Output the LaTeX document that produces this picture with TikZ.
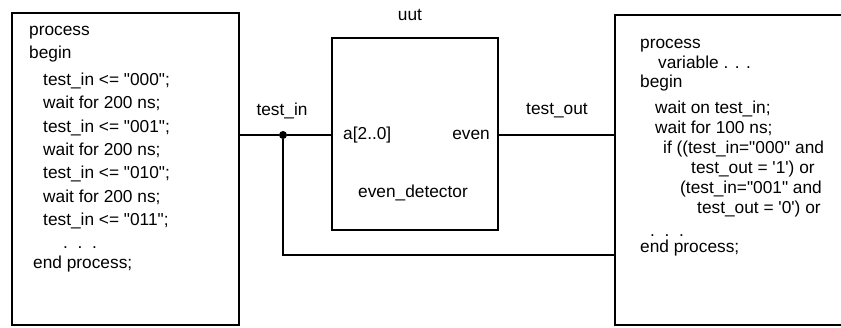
\documentclass[tikz,border=0pt]{standalone}
\usepackage{fontspec}
\setmainfont{Liberation Sans}[Ligatures=TeXOff]
\begin{document}
\begin{tikzpicture}[x=1pt,y=-1pt,
  box/.style={draw, rectangle, line width=2.5pt, inner sep=0pt},
  wire/.style={line width=2.5pt},
  fbwire/.style={line width=1.8pt},
  junction/.style={circle, fill, inner sep=0pt, minimum size=8pt},
  lbl/.style={inner sep=0pt, font=\fontsize{17.3}{20}\selectfont},
  codeL/.style={anchor=base west, inner sep=0pt, font=\fontsize{17.3}{20}\selectfont},
  codeR/.style={anchor=base west, inner sep=0pt, font=\fontsize{17.3}{20}\selectfont}]
\useasboundingbox (0,0) rectangle (841,327);

% stimulus process, unit under test and checking process
\node[box, minimum width=227, minimum height=312] (stim) at (125.5,169) {};
\node[box, minimum width=166, minimum height=192] (uut) at (415,134) {};
\node[box, minimum width=240, minimum height=310] (chk) at (735,170) {};

% stimulus process text
\foreach \dx/\yc/\t [count=\i] in {
  0/30/process,
  0/53/begin,
  14/80/{test\_in <= "000";},
  14/103/{wait for 200 ns;},
  14/127/{test\_in <= "001";},
  14/150/{wait for 200 ns;},
  14/173/{test\_in <= "010";},
  14/197/{wait for 200 ns;},
  14/220/{test\_in <= "011";},
  34/243/{.\ \ .\ \ .},
  4/263/{end process;}}
  \node[codeL] (s\i) at (29+\dx,\yc+5) {\t};

% checking process text
\foreach \dx/\yc/\t [count=\i] in {
  0/43/process,
  18/63/{variable . . .},
  0/82/begin,
  15/108/{wait on test\_in;},
  15/128/{wait for 100 ns;},
  23/148/{if ((test\_in="000" and},
  51/168/{test\_out = '1') or},
  40/188/{(test\_in="001" and},
  57/208/{test\_out = '0') or},
  10/231/{.\ \ .\ \ .},
  0/247/{end process;}}
  \node[codeR] (c\i) at (640+\dx,\yc+5) {\t};

% unit under test labels
\node[lbl] (uutname) at (410,15) {uut};
\node[lbl, anchor=west] (pina) at (343,135) {a[2..0]};
\node[lbl, anchor=east] (pineven) at (490,135) {even};
\node[lbl] (ent) at (413,193) {even\_detector};

% signals
\node[junction] (j) at (283,135) {};
\coordinate (fb) at (283,255);
\draw[wire] (stim.east |- j) -- (j) -- (uut.west |- j);
\draw[wire] (uut.east |- j) -- (chk.west |- j);
\draw[fbwire] (j) -- (fb) -- (chk.west |- fb);
\node[lbl] (sin) at (282,111) {test\_in};
\node[lbl] (sout) at (557,111) {test\_out};
\end{tikzpicture}
\end{document}
